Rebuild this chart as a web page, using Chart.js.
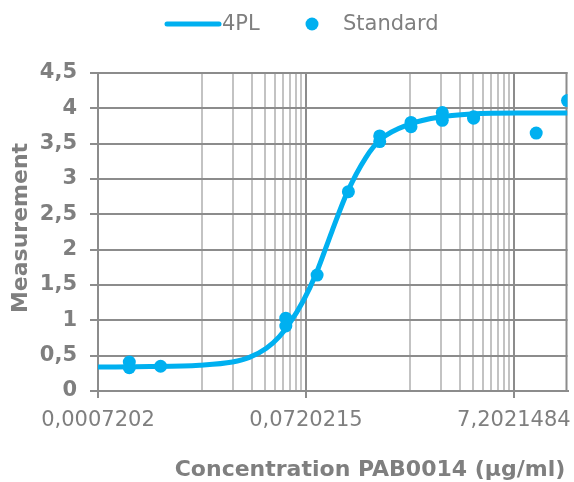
<!DOCTYPE html>
<html>
<head>
<meta charset="utf-8">
<script src="https://cdn.jsdelivr.net/npm/chart.js@4/dist/chart.umd.min.js"></script>
<style>
  html, body { margin: 0; padding: 0; background: #fff; }
</style>
</head>
<body>
<canvas id="curveChart" width="574" height="482"></canvas>
<script>
var stdConc = [23.6, 11.8, 2.95, 2.95, 1.475, 1.475, 0.7375, 0.7375, 0.36875, 0.36875,
               0.184375, 0.0921875, 0.04609375, 0.04609375, 0.00288086, 0.00144043, 0.00144043];
var stdMeas = [4.11, 3.65, 3.88, 3.86, 3.94, 3.83, 3.80, 3.74, 3.61, 3.53,
               2.82, 1.64, 1.03, 0.92, 0.35, 0.41, 0.33];

// fitted 4PL curve, sampled off the plot
var fitConc = [0.0007202, 0.002277, 0.00684, 0.01417, 0.02059, 0.02997, 0.03995, 0.04972, 0.06753,
               0.09014, 0.1281, 0.1784, 0.2704, 0.3764, 0.7293, 1.352, 2.7914, 7.85, 23.6];
var fitMeas = [0.34, 0.345, 0.365, 0.41, 0.475, 0.605, 0.77, 0.95, 1.27,
               1.66, 2.26, 2.8, 3.3, 3.56, 3.78, 3.875, 3.92, 3.935, 3.935];

var xTickValues = [0.000720215, 0.0720215, 7.2021484];
var xTickLabels = ['0,0007202', '0,0720215', '7,2021484'];
var xMinorGrid = [0.0072022, 0.0144043, 0.0216064, 0.0288086, 0.0360107, 0.0432129, 0.050415, 0.0576172, 0.0648193,
                  0.7202148, 1.4404297, 2.1606445, 2.8808594, 3.6010742, 4.321289, 5.0415039, 5.7617188, 6.4819336];
var xMax = 23.6;
var yTickValues = [0, 0.5, 1, 1.5, 2, 2.5, 3, 3.5, 4, 4.5];

var xTitle = 'Concentration PAB0014 (µg/ml)';
var yTitle = 'Measurement';

var blue = '#00b0f0';
var grey = '#8c8c8c';
var lightGrey = '#c3c3c3';
var textGrey = '#7f7f7f';
var family = "'DejaVu Sans', Verdana, sans-serif";

function toPoints(xs, ys) {
    return xs.map(function (x, i) { return { x: x, y: ys[i] }; });
}

// plot frame on the right, legend and axis titles placed like the Excel original
var overlay = {
    id: "overlay",
    beforeDatasetsDraw: function (chart) {
        var c = chart.ctx;
        var a = chart.chartArea;
        c.save();
        c.strokeStyle = grey;
        c.lineWidth = 2;
        c.beginPath();
        c.moveTo(a.right - 1, a.top - 1);
        c.lineTo(a.right - 1, a.bottom);
        c.stroke();
        c.restore();
    },
    afterDraw: function (chart) {
        var c = chart.ctx;
        var sets = chart.data.datasets;
        c.save();
        c.strokeStyle = blue;
        c.lineWidth = 5;
        c.lineCap = "round";
        c.beginPath();
        c.moveTo(167, 24);
        c.lineTo(219, 24);
        c.stroke();
        c.fillStyle = blue;
        c.beginPath();
        c.arc(312, 24, 6.5, 0, Math.PI * 2);
        c.fill();

        c.fillStyle = textGrey;
        c.font = "21px " + family;
        c.textBaseline = "middle";
        c.textAlign = "left";
        c.fillText(sets[0].label, 222, 25);
        c.fillText(sets[1].label, 343, 25);

        c.font = "bold 22px " + family;
        c.textAlign = "center";
        c.fillText(xTitle, 370, 470);
        c.translate(21, 228);
        c.rotate(-Math.PI / 2);
        c.fillText(yTitle, 0, 0);
        c.restore();
    }
};

var ctx = document.getElementById("curveChart").getContext("2d");
var curveChart = new Chart(ctx, {
    type: "scatter",
    data: {
        datasets: [
            {
                label: "4PL",
                data: toPoints(fitConc, fitMeas),
                showLine: true,
                borderColor: blue,
                borderWidth: 5,
                pointRadius: 0,
                cubicInterpolationMode: "monotone",
                clip: 0
            },
            {
                label: "Standard",
                data: toPoints(stdConc, stdMeas),
                pointRadius: 6.5,
                backgroundColor: blue,
                borderWidth: 0,
                clip: 0
            }
        ]
    },
    options: {
        responsive: false,
        animation: false,
        layout: { padding: { top: 73, right: 4, left: 0, bottom: 0 } },
        plugins: {
            legend: { display: false },
            tooltip: { enabled: false }
        },
        scales: {
            x: {
                type: "logarithmic",
                min: xTickValues[0],
                max: xMax,
                afterBuildTicks: function (scale) {
                    var t = xTickValues.map(function (v) { return { value: v, major: true }; });
                    xMinorGrid.forEach(function (v) { t.push({ value: v, major: false }); });
                    t.sort(function (a, b) { return a.value - b.value; });
                    scale.ticks = t;
                },
                afterFit: function (scale) {
                    scale.height = 91;
                    scale.paddingLeft = 0;
                    scale.paddingRight = 0;
                },
                ticks: {
                    autoSkip: false,
                    maxRotation: 0,
                    padding: 10,
                    color: textGrey,
                    font: { family: family, size: 21 },
                    callback: function (value) {
                        var i = xTickValues.indexOf(value);
                        return i >= 0 ? xTickLabels[i] : "";
                    }
                },
                grid: {
                    lineWidth: 2,
                    tickLength: 7,
                    color: function (c) { return c.tick && c.tick.major ? grey : lightGrey; },
                    tickColor: function (c) {
                        return c.tick && c.tick.major ? grey : "rgba(0,0,0,0)";
                    }
                },
                border: { color: grey, width: 2 }
            },
            y: {
                min: 0,
                max: 4.5,
                afterFit: function (scale) {
                    scale.width = 98;
                    scale.paddingTop = 0;
                    scale.paddingBottom = 0;
                },
                afterBuildTicks: function (scale) {
                    scale.ticks = yTickValues.map(function (v) { return { value: v }; });
                },
                ticks: {
                    padding: 13,
                    color: textGrey,
                    font: { family: family, size: 21, weight: "bold" },
                    callback: function (value) { return String(value).replace(".", ","); }
                },
                grid: { color: grey, lineWidth: 2, tickLength: 8, tickColor: grey },
                border: { color: grey, width: 2 }
            }
        }
    },
    plugins: [overlay]
});
</script>
</body>
</html>
